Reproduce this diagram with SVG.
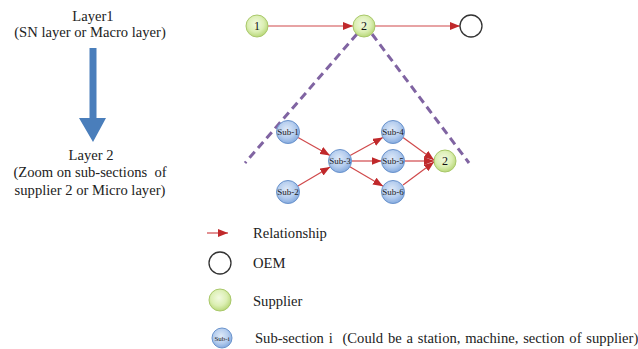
<svg xmlns="http://www.w3.org/2000/svg" width="638" height="349" viewBox="0 0 638 349">
<defs>
<radialGradient id="gSup" cx="45%" cy="40%" r="60%">
<stop offset="0" stop-color="#f2fae0"/><stop offset="0.6" stop-color="#dcefb4"/><stop offset="1" stop-color="#b9d87a"/>
</radialGradient>
<radialGradient id="gSub" cx="45%" cy="40%" r="60%">
<stop offset="0" stop-color="#dfeaf8"/><stop offset="0.6" stop-color="#b5cdee"/><stop offset="1" stop-color="#86abdf"/>
</radialGradient>
<marker id="ah" viewBox="0 0 10 8" refX="10" refY="4" markerWidth="10" markerHeight="8" markerUnits="userSpaceOnUse" orient="auto">
<path d="M0,0 L10,4 L0,8 Z" fill="#c0292b"/>
</marker>
<style>
.t{font-family:"Liberation Serif","Times New Roman",serif;font-size:14.6px;fill:#222;white-space:pre;}
.sup{fill:url(#gSup);stroke:#a9c86a;stroke-width:1;}
.sub{fill:url(#gSub);stroke:#6a93cc;stroke-width:1;}
.oem{fill:#fff;stroke:#333;stroke-width:1.3;}
.nl{font-family:"Liberation Serif","Times New Roman",serif;font-size:12px;fill:#111;text-anchor:middle;}
.sl{font-family:"Liberation Serif","Times New Roman",serif;font-size:9px;fill:#222;text-anchor:middle;}
.rel{stroke:#d0494b;stroke-width:1.2;fill:none;marker-end:url(#ah);}
.dash{stroke:#8064a2;stroke-width:3;stroke-dasharray:8 5;fill:none;}
</style>
</defs>

<g id="layer-labels">
<text class="t" x="93" y="21" text-anchor="middle">Layer1</text>
<text class="t" x="90" y="37" text-anchor="middle">(SN layer or Macro layer)</text>
<text class="t" x="91" y="160" text-anchor="middle">Layer 2</text>
<text class="t" x="90" y="177" text-anchor="middle" xml:space="preserve">(Zoom on sub-sections  of</text>
<text class="t" x="90" y="195" text-anchor="middle">supplier 2 or Micro layer)</text>
</g>
<g id="zoom-arrow">
<path d="M89.5,48 H96.5 V118 H106 L93,142 L79,118 H89.5 Z" fill="#4a7ebb"/>
</g>

<g id="zoom-lines">
<line class="dash" x1="357" y1="34" x2="245" y2="163"/>
<line class="dash" x1="372" y1="34" x2="469" y2="163"/>
</g>

<g id="connectors">
<line class="rel" x1="268" y1="26" x2="353" y2="26"/>
<line class="rel" x1="375" y1="26" x2="460" y2="26"/>
<line class="rel" x1="298" y1="137.6" x2="330" y2="155.4"/>
<line class="rel" x1="297.9" y1="186.1" x2="330.1" y2="166.9"/>
<line class="rel" x1="350.1" y1="155.5" x2="382.9" y2="137.5"/>
<line class="rel" x1="351.5" y1="161" x2="381.5" y2="161"/>
<line class="rel" x1="349.9" y1="166.8" x2="383.1" y2="186.2"/>
<line class="rel" x1="403" y1="137.5" x2="434" y2="160"/>
<line class="rel" x1="404.5" y1="161" x2="434" y2="161"/>
<line class="rel" x1="403" y1="185" x2="434" y2="162"/>
</g>

<g id="node-1"><circle class="sup" cx="257" cy="26" r="11"/><text class="nl" x="257" y="30">1</text></g>
<g id="node-2"><circle class="sup" cx="364" cy="26" r="11"/><text class="nl" x="364" y="30">2</text></g>
<g id="node-oem"><circle class="oem" cx="471" cy="26" r="11"/></g>

<g id="sub-1"><circle class="sub" cx="288" cy="132" r="11.5"/><text class="sl" x="288" y="135">Sub-1</text></g>
<g id="sub-2"><circle class="sub" cx="288" cy="192" r="11.5"/><text class="sl" x="288" y="195">Sub-2</text></g>
<g id="sub-3"><circle class="sub" cx="340" cy="161" r="11.5"/><text class="sl" x="340" y="164">Sub-3</text></g>
<g id="sub-4"><circle class="sub" cx="393" cy="132" r="11.5"/><text class="sl" x="393" y="135">Sub-4</text></g>
<g id="sub-5"><circle class="sub" cx="393" cy="161" r="11.5"/><text class="sl" x="393" y="164">Sub-5</text></g>
<g id="sub-6"><circle class="sub" cx="393" cy="192" r="11.5"/><text class="sl" x="393" y="195">Sub-6</text></g>
<g id="node-2-zoom"><circle class="sup" cx="445" cy="161" r="11"/><text class="nl" x="445" y="165">2</text></g>

<g id="legend">
<line class="rel" x1="207" y1="233" x2="228" y2="233"/>
<text class="t" x="253" y="238">Relationship</text>
<circle class="oem" cx="220" cy="263" r="11"/>
<text class="t" x="253" y="268">OEM</text>
<circle class="sup" cx="220" cy="300" r="11"/>
<text class="t" x="253" y="306">Supplier</text>
<circle class="sub" cx="222" cy="338" r="10"/>
<text class="sl" x="222" y="341" style="font-size:7px">Sub-i</text>
<text class="t" x="255" y="343" xml:space="preserve" style="word-spacing:1.2px">Sub-section i  (Could be a station, machine, section of supplier)</text>
</g>
</svg>
